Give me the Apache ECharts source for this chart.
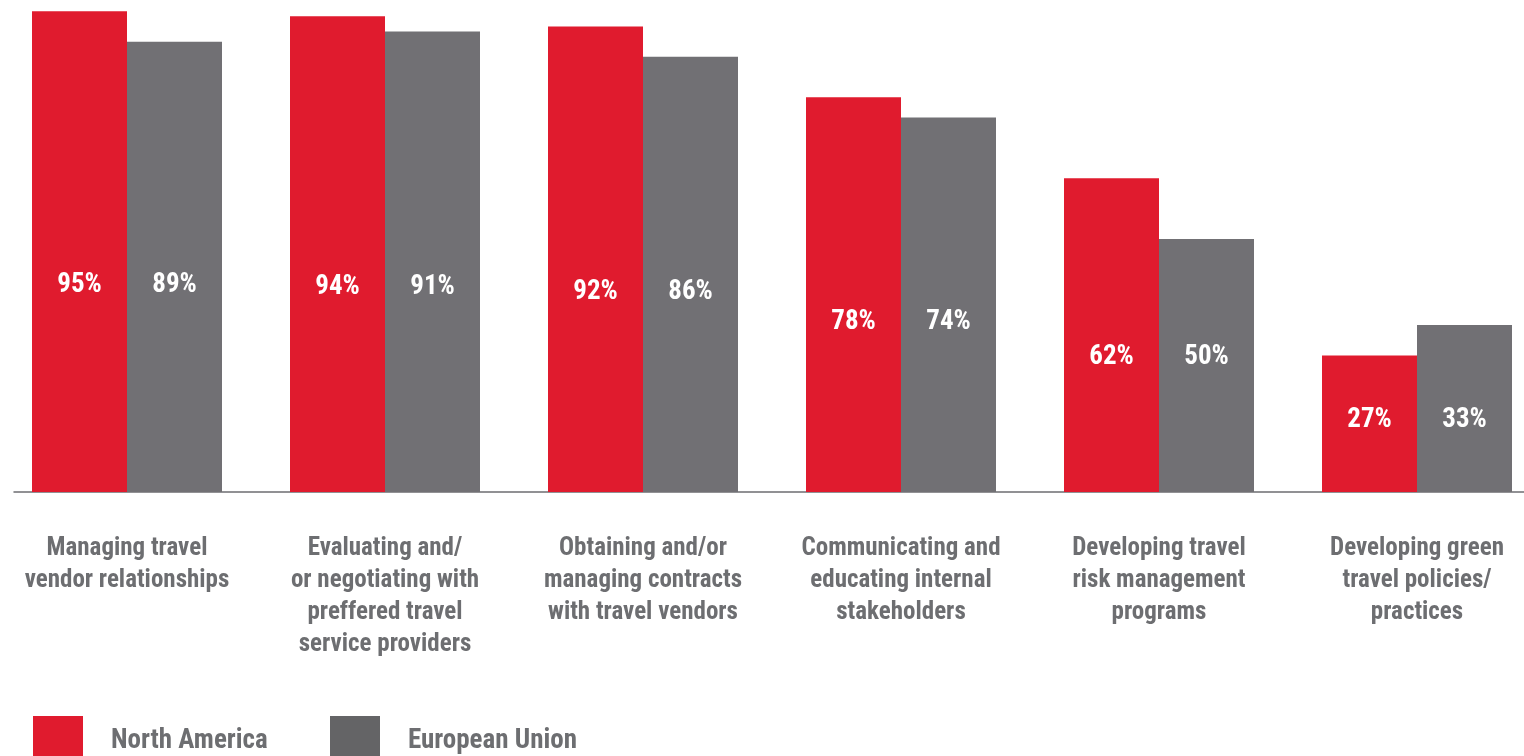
<!DOCTYPE html>
<html>
<head>
<meta charset="utf-8">
<script src="https://cdn.jsdelivr.net/npm/echarts@6/dist/echarts.min.js"></script>
<style>
html,body{margin:0;padding:0;background:#fff;}
#chart{width:1524px;height:756px;}
</style>
</head>
<body>
<div id="chart"></div>
<script>
const categories = [
  'Managing travel\nvendor relationships',
  'Evaluating and/\nor negotiating with\npreffered travel\nservice providers',
  'Obtaining and/or\nmanaging contracts\nwith travel vendors',
  'Communicating and\neducating internal\nstakeholders',
  'Developing travel\nrisk management\nprograms',
  'Developing green\ntravel policies/\npractices'
];
const northAmerica = [95, 94, 92, 78, 62, 27];
const europeanUnion = [89, 91, 86, 74, 50, 33];
const seriesNames = ['North America', 'European Union'];

const FONT = "'Liberation Sans Narrow', 'Roboto Condensed', 'DejaVu Sans Condensed', 'Liberation Sans', sans-serif";
const RED = '#E01B2E';
const GREY = '#717074';
const TEXT = '#6D6E71';
const GRID_TOP = -14, PLOT_H = 506;
const Y_MAX = 100;
const k = PLOT_H / Y_MAX;

function buildData(values, other) {
  return values.map((v, i) => {
    const anchor = 0.43 * Math.max(v, other[i]);
    return {
      value: v,
      label: { position: ['50%', (v - anchor) * k] }
    };
  });
}

const labelStyle = {
  show: true,
  formatter: '{c}%',
  color: '#fff',
  fontFamily: FONT,
  fontWeight: 'bold',
  fontSize: 27,
  align: 'center',
  verticalAlign: 'middle'
};

const chart = echarts.init(document.getElementById('chart'));
chart.setOption({
  animation: false,
  grid: [
    { left: -2, width: 1548, top: GRID_TOP, height: PLOT_H, containLabel: false, outerBoundsMode: 'none' },
    { left: 14, width: 1510, top: GRID_TOP, height: PLOT_H, containLabel: false, outerBoundsMode: 'none' }
  ],
  xAxis: [
    {
      type: 'category', data: categories, gridIndex: 0,
      axisLine: { show: false }, axisTick: { show: false },
      axisLabel: {
        interval: 0, margin: 41, color: TEXT, fontFamily: FONT,
        fontWeight: 'bold', fontSize: 25, lineHeight: 32, align: 'center'
      }
    },
    {
      type: 'value', gridIndex: 1, min: 0, max: 1,
      axisLine: { show: true, lineStyle: { color: '#6D6E71', width: 1.5 } },
      axisTick: { show: false }, axisLabel: { show: false }, splitLine: { show: false }
    }
  ],
  yAxis: [
    { type: 'value', gridIndex: 0, min: 0, max: Y_MAX, show: false, splitLine: { show: false } },
    { type: 'value', gridIndex: 1, min: 0, max: 1, show: false, splitLine: { show: false } }
  ],
  legend: [
    {
      left: 33, top: 716, padding: 0, itemWidth: 50, itemHeight: 50, icon: 'rect',
      data: [{ name: seriesNames[0], itemStyle: { color: RED } }],
      textStyle: { color: TEXT, fontFamily: FONT, fontWeight: 'bold', fontSize: 27, padding: [0, 0, 0, 23] }
    },
    {
      left: 330, top: 716, padding: 0, itemWidth: 50, itemHeight: 50, icon: 'rect',
      data: [{ name: seriesNames[1], itemStyle: { color: '#646466' } }],
      textStyle: { color: TEXT, fontFamily: FONT, fontWeight: 'bold', fontSize: 27, padding: [0, 0, 0, 23] }
    }
  ],
  series: [
    {
      name: seriesNames[0], type: 'bar', xAxisIndex: 0, yAxisIndex: 0,
      barWidth: 95, barGap: '0%',
      itemStyle: { color: RED },
      label: labelStyle,
      data: buildData(northAmerica, europeanUnion)
    },
    {
      name: seriesNames[1], type: 'bar', xAxisIndex: 0, yAxisIndex: 0,
      barWidth: 95, barGap: '0%',
      itemStyle: { color: GREY },
      label: labelStyle,
      data: buildData(europeanUnion, northAmerica)
    }
  ]
});
</script>
</body>
</html>
